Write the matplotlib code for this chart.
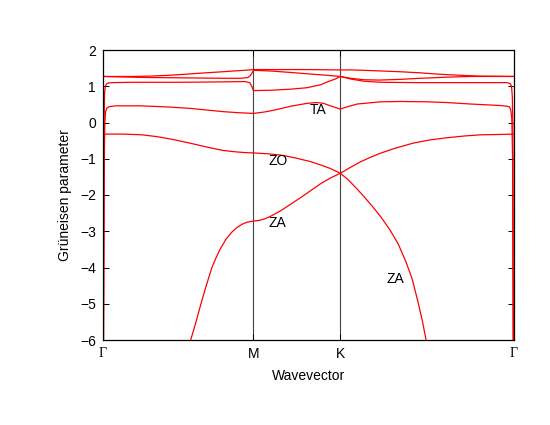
import matplotlib
matplotlib.use("Agg")
import matplotlib.pyplot as plt

plt.rcParams['font.family'] = ['Liberation Sans', 'DejaVu Sans']

# high-symmetry points (path distance)
sym_pos = [0.0, 0.5774, 0.9107, 1.5774]
sym_labels = ['Γ', 'M', 'K', 'Γ']

# band data: wavevector (path coordinate) and Grüneisen parameter
band_a_q = [0.0, 0.115, 0.18, 0.246, 0.334, 0.372, 0.46, 0.499, 0.545, 0.5774,
            0.683, 0.785, 0.9107, 0.957, 1.037, 1.141, 1.217, 1.275, 1.321, 1.409, 1.448, 1.5774]
band_a_g = [1.27, 1.27, 1.28, 1.30, 1.34, 1.36, 1.40, 1.42, 1.44, 1.46,
            1.46, 1.46, 1.45, 1.45, 1.43, 1.40, 1.37, 1.34, 1.32, 1.29, 1.28, 1.27]

band_b_q = [0.0, 0.115, 0.18, 0.334, 0.46, 0.53, 0.556, 0.566, 0.573, 0.5774,
            0.645, 0.721, 0.808, 0.846, 0.9107,
            0.95, 1.0, 1.06, 1.14, 1.22, 1.32, 1.41, 1.5774]
band_b_g = [1.27, 1.25, 1.24, 1.23, 1.22, 1.22, 1.24, 1.30, 1.38, 1.44,
            1.42, 1.38, 1.33, 1.31, 1.27,
            1.22, 1.18, 1.17, 1.19, 1.22, 1.25, 1.27, 1.27]

band_c_q = [0.001, 0.004, 0.006, 0.009, 0.013, 0.02, 0.04, 0.115, 0.3, 0.46, 0.545, 0.563, 0.571, 0.5774,
            0.645, 0.721, 0.784, 0.808, 0.835, 0.861, 0.892, 0.9107,
            0.95, 1.0, 1.064, 1.2, 1.4, 1.55, 1.563, 1.568, 1.571, 1.573, 1.575, 1.5774]
band_c_g = [-8.0, 0.0, 0.8, 1.0, 1.06, 1.09, 1.10, 1.11, 1.11, 1.12, 1.13, 1.10, 1.0, 0.88,
            0.89, 0.92, 0.96, 1.0, 1.04, 1.12, 1.20, 1.27,
            1.20, 1.14, 1.11, 1.10, 1.10, 1.10, 1.07, 1.0, 0.7, 0.0, -6.0, -8.0]

band_ta_q = [0.001, 0.005, 0.007, 0.01, 0.015, 0.025, 0.05, 0.142, 0.246, 0.334, 0.46, 0.52, 0.5774,
             0.62, 0.656, 0.721, 0.785, 0.82, 0.846, 0.873, 0.9107,
             0.94, 0.976, 1.02, 1.064, 1.14, 1.25, 1.32, 1.41, 1.52, 1.55, 1.56, 1.565, 1.569, 1.572, 1.574, 1.5774]
band_ta_g = [-8.0, -1.0, 0.0, 0.3, 0.4, 0.44, 0.46, 0.46, 0.43, 0.39, 0.30, 0.27, 0.25,
             0.29, 0.34, 0.45, 0.53, 0.55, 0.53, 0.46, 0.37,
             0.44, 0.51, 0.54, 0.57, 0.58, 0.57, 0.55, 0.51, 0.47, 0.45, 0.43, 0.35, 0.1, -1.0, -6.0, -8.0]

band_zo_q = [0.0, 0.08, 0.15, 0.207, 0.27, 0.334, 0.40, 0.46, 0.51, 0.545, 0.5774,
             0.627, 0.684, 0.740, 0.797, 0.835, 0.873, 0.9107,
             0.949, 0.987, 1.026, 1.064, 1.121, 1.190, 1.255, 1.321, 1.390, 1.448, 1.524, 1.5774]
band_zo_g = [-0.32, -0.32, -0.34, -0.39, -0.47, -0.57, -0.68, -0.77, -0.81, -0.83, -0.84,
             -0.86, -0.90, -0.98, -1.08, -1.17, -1.27, -1.40,
             -1.24, -1.09, -0.96, -0.85, -0.71, -0.57, -0.48, -0.42, -0.37, -0.34, -0.33, -0.32]

band_za_q = [0.3365, 0.357, 0.376, 0.395, 0.418, 0.434, 0.449, 0.472, 0.495, 0.514, 0.533, 0.553, 0.5774,
             0.60, 0.62, 0.645, 0.683, 0.721, 0.759, 0.797, 0.835, 0.873, 0.9107,
             0.941, 0.976, 1.006, 1.037, 1.068, 1.102, 1.133, 1.163, 1.186, 1.209, 1.225, 1.240]
band_za_g = [-6.0, -5.5, -5.0, -4.53, -4.0, -3.73, -3.5, -3.22, -3.02, -2.90, -2.81, -2.75, -2.72,
             -2.70, -2.66, -2.58, -2.43, -2.25, -2.07, -1.88, -1.69, -1.53, -1.40,
             -1.58, -1.84, -2.08, -2.34, -2.62, -2.97, -3.35, -3.85, -4.30, -4.95, -5.45, -6.0]

bands = [(band_a_q, band_a_g), (band_b_q, band_b_g), (band_c_q, band_c_g),
         (band_ta_q, band_ta_g), (band_zo_q, band_zo_g), (band_za_q, band_za_g)]

labels_txt = ['TA', 'ZO', 'ZA', 'ZA']
labels_q = [0.824, 0.672, 0.668, 1.121]
labels_g = [0.345, -1.06, -2.77, -4.32]

fig = plt.figure(figsize=(5.5, 4.25), dpi=100)
ax = fig.add_axes([103/550, 1-340/425, (514-103)/550, (340-50)/425])

for q, g in bands:
    ax.plot(q, g, color='#ff0000', lw=0.9, solid_joinstyle='round')

for xp in sym_pos[1:-1]:
    ax.axvline(xp, color='#444444', lw=0.8, zorder=0)

for t, xq, yg in zip(labels_txt, labels_q, labels_g):
    ax.text(xq, yg, t, ha='center', va='center', fontsize=10)

ax.set_xlim(sym_pos[0], sym_pos[-1])
ax.set_ylim(-6, 2)
ax.set_yticks(range(-6, 3))
ax.set_xticks(sym_pos)
ax.set_xticklabels(sym_labels)
for lab in ax.get_xticklabels():
    if lab.get_text() == 'Γ':
        lab.set_family(['Liberation Serif', 'DejaVu Serif'])
ax.tick_params(direction='in', length=4.5, width=0.7, labelsize=10,
               right=True, top=True, pad=5)
for s in ax.spines.values():
    s.set_linewidth(0.9)

ax.set_xlabel('Wavevector', fontsize=10, labelpad=6)
ax.set_ylabel('Grüneisen parameter', fontsize=10, labelpad=6)

fig.savefig('out.png', dpi=100)
